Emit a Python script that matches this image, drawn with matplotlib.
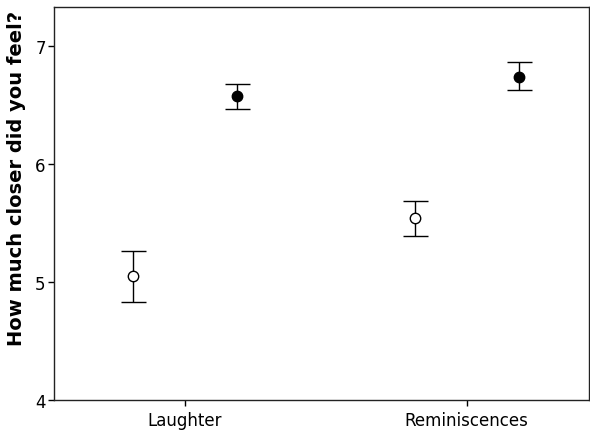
import matplotlib
matplotlib.use("Agg")
import matplotlib.pyplot as plt
import numpy as np

categories = ["Laughter", "Reminiscences"]
open_mean = [5.05, 5.54]
open_low = [4.83, 5.39]
open_high = [5.26, 5.69]
filled_mean = [6.58, 6.74]
filled_low = [6.47, 6.63]
filled_high = [6.68, 6.86]
yticks = [4, 5, 6, 7]

plt.rcParams['font.family'] = ['DejaVu Sans']

fig = plt.figure(figsize=(5.9, 4.31), dpi=100)
ax = fig.add_axes([0.0915, 0.0696, 0.9065, 0.9118])

x = np.arange(len(categories))
off = 0.184

def draw(xs, mean, low, high, face):
    mean = np.array(mean); low = np.array(low); high = np.array(high)
    ax.errorbar(xs, mean, yerr=[mean - low, high - mean], fmt='none',
                ecolor='black', elinewidth=1.0, capsize=9, capthick=1.0)
    ax.plot(xs, mean, 'o', markersize=7.5, markerfacecolor=face,
            markeredgecolor='black', markeredgewidth=1.0, linestyle='none')

draw(x - off, open_mean, open_low, open_high, 'white')
draw(x + off, filled_mean, filled_low, filled_high, 'black')

ax.set_xlim(-0.465, 1.433)
ax.set_ylim(4, 7.33)
ax.set_yticks(yticks)
ax.set_yticklabels([str(t) for t in yticks])
ax.set_xticks(x)
ax.set_xticklabels(categories)
ax.tick_params(axis='both', direction='out', length=4, width=1, labelsize=12, colors='black')
ax.tick_params(axis='y', pad=2)
ax.tick_params(axis='x', pad=4)
ax.set_ylabel("How much closer did you feel?", fontsize=14, fontweight='bold')
ax.yaxis.set_label_coords(-0.052, 0.566)
for s in ax.spines.values():
    s.set_linewidth(1.0)
    s.set_color('#222222')

fig.savefig("out.png", dpi=100)
